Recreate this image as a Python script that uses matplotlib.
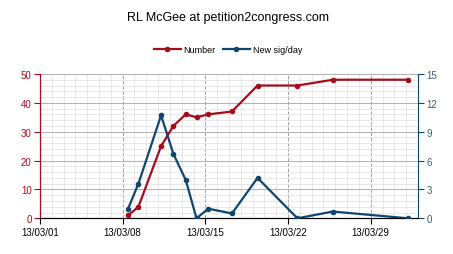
import matplotlib
matplotlib.use('Agg')
import matplotlib.pyplot as plt
import matplotlib.dates as mdates
from matplotlib.ticker import MultipleLocator, FixedLocator
import pandas as pd

plt.rcParams['font.family'] = ['Liberation Sans', 'DejaVu Sans']

# data
dates = pd.to_datetime([
    '2013-03-08 11:00', '2013-03-09 08:00', '2013-03-11 06:00', '2013-03-12 07:00',
    '2013-03-13 08:00', '2013-03-14 06:00', '2013-03-15 06:00', '2013-03-17 06:00',
    '2013-03-19 10:00', '2013-03-22 19:00', '2013-03-25 19:00', '2013-04-01 04:00',
])
number = [1, 4, 25, 32, 36, 35, 36, 37, 46, 46, 48, 48]
new_per_day = [1.0, 3.6, 10.7, 6.7, 4.0, 0.0, 1.0, 0.5, 4.2, 0.0, 0.7, 0.0]
tick_days = pd.to_datetime(['2013-03-01', '2013-03-08', '2013-03-15', '2013-03-22', '2013-03-29'])

RED = '#a50d1c'
BLUE = '#10466e'

fig = plt.figure(figsize=(4.53, 2.55), dpi=100)
ax = fig.add_axes([0.0883, 0.140, 0.8344, 0.566])
ax2 = ax.twinx()

ax.plot(dates, number, '-o', color=RED, lw=1.6, ms=3, label='Number', zorder=3)
ax2.plot(dates, new_per_day, '-o', color=BLUE, lw=1.6, ms=3, label='New sig/day', zorder=3)

ax.set_xlim(pd.Timestamp('2013-03-01'), pd.Timestamp('2013-04-02'))
ax.set_ylim(0, 50)
ax2.set_ylim(0, 15)

ax.xaxis.set_major_locator(FixedLocator(mdates.date2num(tick_days)))
ax.xaxis.set_minor_locator(mdates.DayLocator())
ax.xaxis.set_major_formatter(mdates.DateFormatter('%y/%m/%d'))
ax.yaxis.set_major_locator(MultipleLocator(10))
ax.yaxis.set_minor_locator(MultipleLocator(2))
ax2.yaxis.set_major_locator(MultipleLocator(3))

ax.grid(True, which='minor', color='#e4e4e4', lw=0.6)
ax.grid(True, which='major', axis='y', color='#b0b0b0', lw=0.7)
ax.grid(True, which='major', axis='x', color='#a0a0a0', lw=0.7, ls='--')
ax.set_axisbelow(True)

ax.tick_params(axis='x', which='minor', length=0)
ax.tick_params(axis='x', which='major', labelsize=7, length=4, color='black', pad=2)
ax.tick_params(axis='y', which='minor', length=0)
ax.tick_params(axis='y', labelsize=7, labelcolor=RED, color=RED, length=4, pad=2)
ax2.tick_params(axis='y', labelsize=7, labelcolor='#3c5a78', color=BLUE, length=4, pad=2)

for a in (ax, ax2):
    a.spines['top'].set_visible(False)
ax.spines['right'].set_visible(False)
ax2.spines['left'].set_color(RED)
ax2.spines['right'].set_color(BLUE)
ax2.spines['bottom'].set_color('black')

fig.text(0.503, 0.93, 'RL McGee at petition2congress.com', ha='center', va='center', fontsize=9)

h1, l1 = ax.get_legend_handles_labels()
h2, l2 = ax2.get_legend_handles_labels()
fig.legend(h1 + h2, l1 + l2, loc='center', bbox_to_anchor=(0.503, 0.80), ncol=2,
           frameon=False, fontsize=6.5, handlelength=3, columnspacing=0.8, handletextpad=0.3)

fig.savefig('out.png', dpi=100)
